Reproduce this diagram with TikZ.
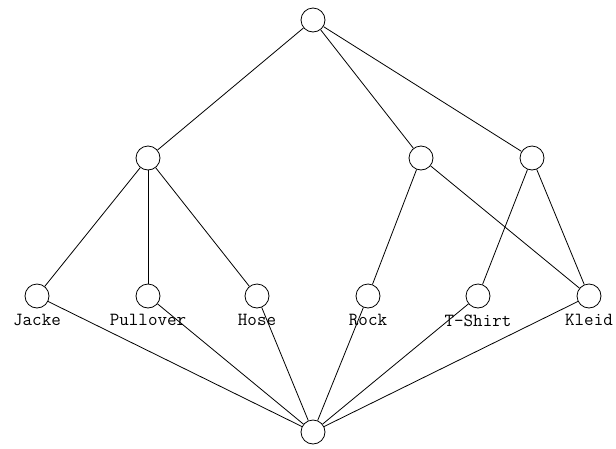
\documentclass[tikz,border=0pt]{standalone}
\usepackage{tikz}
\usetikzlibrary{positioning}

\begin{document}
\begin{tikzpicture}[
		x=1pt, y=-1pt,
		font=\ttfamily\fontsize{18.5}{20}\selectfont,
		elem/.style={draw, circle, minimum size=24pt, inner sep=0pt, line width=0.8pt},
		lbl/.style={label={[inner sep=0pt, label distance=6pt]below:#1}},
		edge/.style={line width=0.8pt}
		]
		\useasboundingbox (0,0) rectangle (616,448);
		% top element
		\node[elem] (top) at (313,20) {};
		% middle row
		\node[elem] (m1) at (148,158) {};
		\node[elem] (m2) at (421,158) {};
		\node[elem] (m3) at (532,158) {};
		% atoms (clothes)
		\node[elem, lbl=Jacke] (jacke) at (37,296) {};
		\node[elem, lbl=Pullover] (pullover) at (148,296) {};
		\node[elem, lbl=Hose] (hose) at (257,296) {};
		\node[elem, lbl=Rock] (rock) at (368,296) {};
		\node[elem, lbl=T-Shirt] (tshirt) at (478,296) {};
		\node[elem, lbl=Kleid] (kleid) at (589,296) {};
		% bottom element
		\node[elem] (bot) at (313,432) {};
		% edges
		\foreach \m in {m1,m2,m3}
			\draw[edge] (top) -- (\m);
		\foreach \a in {jacke,pullover,hose}
			\draw[edge] (m1) -- (\a);
		\draw[edge] (m2) -- (rock);
		\draw[edge] (m2) -- (kleid);
		\draw[edge] (m3) -- (tshirt);
		\draw[edge] (m3) -- (kleid);
		\foreach \a in {jacke,pullover,hose,rock,tshirt,kleid}
			\draw[edge] (\a) -- (bot);
	\end{tikzpicture}
\end{document}
